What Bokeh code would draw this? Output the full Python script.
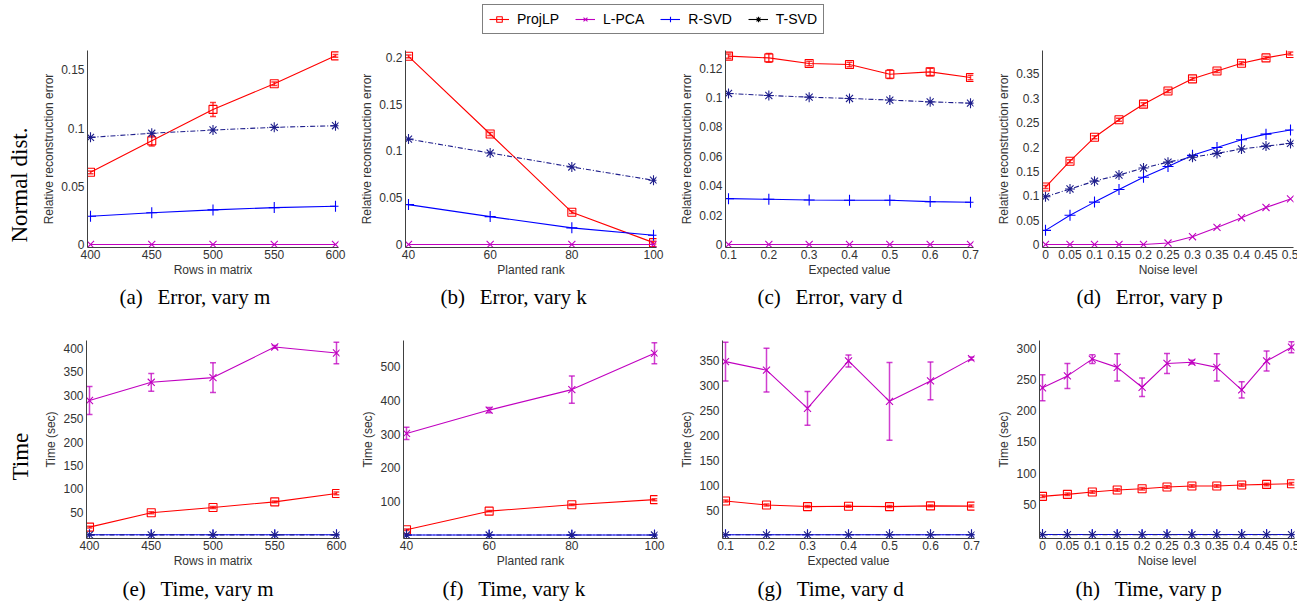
from bokeh.plotting import figure
from bokeh.layouts import column, row
from bokeh.models import (Range1d, FixedTicker, Legend, LegendItem, Title,
                          Whisker, ColumnDataSource, TeeHead)
from bokeh.embed import file_html
from bokeh.resources import INLINE

# ---------------- data ----------------
series_names = ["ProjLP", "L-PCA", "R-SVD", "T-SVD"]

rows_in_matrix = [400, 450, 500, 550, 600]
planted_rank = [40, 60, 80, 100]
expected_value = [0.1, 0.2, 0.3, 0.4, 0.5, 0.6, 0.7]
noise_level = [0, 0.05, 0.1, 0.15, 0.2, 0.25, 0.3, 0.35, 0.4, 0.45, 0.5]

rows_ticklabels = ["400", "450", "500", "550", "600"]
rank_ticklabels = ["40", "60", "80", "100"]
expected_ticklabels = ["0.1", "0.2", "0.3", "0.4", "0.5", "0.6", "0.7"]
noise_ticklabels = ["0", "0.05", "0.1", "0.15", "0.2", "0.25", "0.3", "0.35", "0.4", "0.45", "0.5"]

yt_a = [0, 0.05, 0.1, 0.15]
yl_a = ["0", "0.05", "0.1", "0.15"]
yt_b = [0, 0.05, 0.1, 0.15, 0.2]
yl_b = ["0", "0.05", "0.1", "0.15", "0.2"]
yt_c = [0, 0.02, 0.04, 0.06, 0.08, 0.1, 0.12]
yl_c = ["0", "0.02", "0.04", "0.06", "0.08", "0.1", "0.12"]
yt_d = [0, 0.05, 0.1, 0.15, 0.2, 0.25, 0.3, 0.35]
yl_d = ["0", "0.05", "0.1", "0.15", "0.2", "0.25", "0.3", "0.35"]
yt_e = [50, 100, 150, 200, 250, 300, 350, 400]
yt_f = [100, 200, 300, 400, 500]
yt_g = [50, 100, 150, 200, 250, 300, 350]
yt_h = [50, 100, 150, 200, 250, 300]

# (a) error, vary m
err_m_projlp = [0.062, 0.089, 0.116, 0.138, 0.162]
err_m_projlp_sd = [0.0012, 0.0045, 0.006, 0.0015, 0.0012]
err_m_lpca = [0, 0, 0, 0, 0]
err_m_rsvd = [0.0243, 0.0272, 0.0297, 0.0317, 0.0329]
err_m_tsvd = [0.092, 0.0955, 0.0983, 0.1006, 0.102]

# (b) error, vary k
err_k_projlp = [0.201, 0.118, 0.0345, 0.002]
err_k_projlp_sd = [0.0015, 0.0015, 0.0015, 0.0015]
err_k_lpca = [0, 0, 0, 0]
err_k_rsvd = [0.0426, 0.0298, 0.0178, 0.0099]
err_k_tsvd = [0.1126, 0.0977, 0.0828, 0.0686]

# (c) error, vary d
err_d_projlp = [0.1282, 0.1270, 0.1232, 0.1225, 0.1159, 0.1175, 0.1137]
err_d_projlp_sd = [0.0015, 0.003, 0.0015, 0.0015, 0.003, 0.0025, 0.0015]
err_d_lpca = [0, 0, 0, 0, 0, 0, 0]
err_d_rsvd = [0.0312, 0.0308, 0.0303, 0.0301, 0.0301, 0.0292, 0.0288]
err_d_tsvd = [0.1028, 0.1014, 0.1003, 0.0994, 0.0983, 0.0971, 0.0962]

# (d) error, vary p
err_p_projlp = [0.118, 0.171, 0.220, 0.256, 0.288, 0.315, 0.340, 0.356, 0.372, 0.383, 0.392]
err_p_projlp_sd = [0.003, 0.003, 0.003, 0.003, 0.003, 0.003, 0.003, 0.003, 0.003, 0.003, 0.003]
err_p_lpca = [0, 0, 0, 0, 0, 0.003, 0.016, 0.035, 0.055, 0.076, 0.0935]
err_p_rsvd = [0.029, 0.060, 0.087, 0.113, 0.138, 0.160, 0.183, 0.199, 0.215, 0.2265, 0.235]
err_p_tsvd = [0.098, 0.114, 0.130, 0.1426, 0.157, 0.169, 0.179, 0.187, 0.196, 0.202, 0.2074]

# (e) time, vary m
time_m_projlp = [18, 48.6, 60, 72, 90]
time_m_projlp_sd = [2, 2, 2, 2, 3]
time_m_lpca = [289, 328, 338, 403.6, 390.7]
time_m_lpca_sd = [30, 19, 32, 3, 23]
time_m_rsvd = [1.6, 1.6, 1.6, 1.6, 1.6]
time_m_tsvd = [1.4, 1.4, 1.4, 1.4, 1.4]

# (f) time, vary k
time_k_projlp = [17, 72, 91, 106]
time_k_projlp_sd = [2, 2, 2, 3]
time_k_lpca = [302, 371, 431.6, 539]
time_k_lpca_sd = [18, 8, 40, 31]
time_k_rsvd = [1.6, 1.6, 1.6, 1.6]
time_k_tsvd = [1.4, 1.4, 1.4, 1.4]

# (g) time, vary d
time_d_projlp = [69.3, 61.3, 58, 58.7, 58, 59.4, 59]
time_d_projlp_sd = [2, 2, 2, 2, 2, 2, 2]
time_d_lpca = [348.7, 331.5, 255, 350, 269, 310, 354.7]
time_d_lpca_sd = [39, 44, 34, 12, 78, 38, 3]
time_d_rsvd = [1.6, 1.6, 1.6, 1.6, 1.6, 1.6, 1.6]
time_d_tsvd = [1.4, 1.4, 1.4, 1.4, 1.4, 1.4, 1.4]

# (h) time, vary p
time_p_projlp = [62.8, 66, 69.7, 72.9, 75, 77.7, 79.3, 79.3, 80.9, 82, 83]
time_p_projlp_sd = [2, 2, 2, 2, 2, 2, 2, 2, 2, 2, 2]
time_p_lpca = [237, 256, 283, 269.7, 237.8, 276, 278, 269.7, 233.5, 280, 302]
time_p_lpca_sd = [21, 20, 7, 22, 15, 16, 3, 22, 13, 16, 9]
time_p_rsvd = [1.6, 1.6, 1.6, 1.6, 1.6, 1.6, 1.6, 1.6, 1.6, 1.6, 1.6]
time_p_tsvd = [1.4, 1.4, 1.4, 1.4, 1.4, 1.4, 1.4, 1.4, 1.4, 1.4, 1.4]

# ---------------- style ----------------
SANS = "Liberation Sans"
SERIF = "Liberation Serif"
TXT = "#333333"
AXC = "#404040"
COL = {"ProjLP": "#ff0000", "L-PCA": "#c000c0", "R-SVD": "#0000ff", "T-SVD": "#1e1e8c"}
LEGCOL = {"ProjLP": "#ff0000", "L-PCA": "#c000c0", "R-SVD": "#0000ff", "T-SVD": "#000000"}
MARK = {"ProjLP": "square", "L-PCA": "x", "R-SVD": "cross", "T-SVD": "asterisk"}
MSIZE = {"ProjLP": 8, "L-PCA": 10, "R-SVD": 11, "T-SVD": 10}
DASH = {"ProjLP": "solid", "L-PCA": "solid", "R-SVD": "solid", "T-SVD": "5 2 1 2"}
PAD = 3
GAP = "\u2002\u2009"


def make_panel(xs, series, sds, x_lo, x_hi, inner_w, y_top, inner_h,
               bl, br, bt, bb, xticks, xticklabels, yticks, yticklabels,
               xlabel, ylabel, caption, cap_offset, cap_standoff, spacer,
               rowlabel=None, rl_offset=0, rl_standoff=0):
    sx = (x_hi - x_lo) / inner_w
    sy = y_top / inner_h
    p = figure(frame_width=inner_w + 2 * PAD, frame_height=inner_h + 2 * PAD,
               x_range=Range1d(x_lo - PAD * sx, x_hi + PAD * sx),
               y_range=Range1d(-PAD * sy, y_top + PAD * sy),
               min_border_left=bl, min_border_right=br,
               min_border_top=bt - PAD, min_border_bottom=bb,
               toolbar_location=None, output_backend="svg")
    p.grid.visible = False
    p.outline_line_color = None
    p.background_fill_color = "white"

    for name in series_names:
        ys = series[name]
        p.line(xs, ys, line_color=COL[name], line_width=1.1, line_dash=DASH[name])
        if name in sds:
            sd = sds[name]
            src = ColumnDataSource(dict(x=xs,
                                        lo=[y - s for y, s in zip(ys, sd)],
                                        hi=[y + s for y, s in zip(ys, sd)]))
            w = Whisker(source=src, base="x", lower="lo", upper="hi",
                        line_color=COL[name], line_alpha=0.75, line_width=1.5,
                        upper_head=TeeHead(size=6, line_color=COL[name], line_width=1.5, line_alpha=0.75),
                        lower_head=TeeHead(size=6, line_color=COL[name], line_width=1.5, line_alpha=0.75))
            p.add_layout(w)
        p.scatter(xs, ys, marker=MARK[name], size=MSIZE[name], line_color=COL[name],
                  fill_color=None, line_width=1.1)

    for ax in (p.xaxis[0], p.yaxis[0]):
        ax.major_tick_line_color = None
        ax.minor_tick_line_color = None
        ax.major_tick_out = 0
        ax.major_tick_in = 0
        ax.minor_tick_out = 0
        ax.minor_tick_in = 0
        ax.axis_line_color = AXC
        ax.axis_line_width = 1
        ax.major_label_text_font = SANS
        ax.major_label_text_font_size = "12px"
        ax.major_label_text_color = TXT
        ax.axis_label_text_font = SANS
        ax.axis_label_text_font_size = "12px"
        ax.axis_label_text_font_style = "normal"
        ax.axis_label_text_color = TXT

    p.xaxis.ticker = FixedTicker(ticks=xticks)
    p.xaxis.major_label_overrides = dict(zip(xticks, xticklabels))
    p.xaxis.axis_label = xlabel
    p.xaxis.major_label_standoff = 2
    p.xaxis.axis_label_standoff = 1

    p.yaxis.ticker = FixedTicker(ticks=yticks)
    p.yaxis.major_label_overrides = dict(zip(yticks, yticklabels))
    p.yaxis.axis_label = ylabel
    p.yaxis.major_label_standoff = 3
    p.yaxis.axis_label_standoff = 2

    if spacer is not None:
        p.add_layout(Title(text=" ", text_font_size="1px", standoff=spacer), "below")
    cap = Title(text=caption, align="left", offset=cap_offset, vertical_align="middle",
                standoff=cap_standoff, text_font=SERIF, text_font_size="21px",
                text_font_style="normal", text_color="black")
    p.add_layout(cap, "below")

    if rowlabel is not None:
        p.add_layout(Title(text=rowlabel, align="left", offset=rl_offset, vertical_align="top",
                           standoff=rl_standoff, text_font=SERIF, text_font_size="23px",
                           text_font_style="normal", text_color="black"), "left")
    return p


def ser(a, b, c, d):
    return {"ProjLP": a, "L-PCA": b, "R-SVD": c, "T-SVD": d}


ERR = "Relative reconstruction error"
TIME = "Time (sec)"

pa = make_panel(rows_in_matrix, ser(err_m_projlp, err_m_lpca, err_m_rsvd, err_m_tsvd),
                {"ProjLP": err_m_projlp_sd}, 400, 600, 245, 0.164, 191,
                85, 9, 17, 76, rows_in_matrix, rows_ticklabels, yt_a, yl_a,
                "Rows in matrix", ERR, "(a)" + GAP + "Error, vary m", 32, 8, None,
                "Normal dist.", 5, 12)
pb = make_panel(planted_rank, ser(err_k_projlp, err_k_lpca, err_k_rsvd, err_k_tsvd),
                {"ProjLP": err_k_projlp_sd}, 40, 100, 245, 0.204, 191,
                58, 9, 17, 76, planted_rank, rank_ticklabels, yt_b, yl_b,
                "Planted rank", ERR, "(b)" + GAP + "Error, vary k", 35, 8, None)
pc = make_panel(expected_value, ser(err_d_projlp, err_d_lpca, err_d_rsvd, err_d_tsvd),
                {"ProjLP": err_d_projlp_sd}, 0.1, 0.7, 242, 0.130, 191,
                60, 9, 17, 76, expected_value, expected_ticklabels, yt_c, yl_c,
                "Expected value", ERR, "(c)" + GAP + "Error, vary d", 32, 8, None)
pd_ = make_panel(noise_level, ser(err_p_projlp, err_p_lpca, err_p_rsvd, err_p_tsvd),
                 {"ProjLP": err_p_projlp_sd}, 0, 0.5, 245, 0.392, 191,
                 60, 5, 17, 76, noise_level, noise_ticklabels, yt_d, yl_d,
                 "Noise level", ERR, "(d)" + GAP + "Error, vary p", 34, 8, None)

pe = make_panel(rows_in_matrix, ser(time_m_projlp, time_m_lpca, time_m_rsvd, time_m_tsvd),
                {"ProjLP": time_m_projlp_sd, "L-PCA": time_m_lpca_sd}, 400, 600, 247, 411, 192,
                83, 9, 20, 67, rows_in_matrix, rows_ticklabels, yt_e, [str(v) for v in yt_e],
                "Rows in matrix", TIME, "(e)" + GAP + "Time, vary m", 36, 0, 2,
                "Time", 58, 14)
pf = make_panel(planted_rank, ser(time_k_projlp, time_k_lpca, time_k_rsvd, time_k_tsvd),
                {"ProjLP": time_k_projlp_sd, "L-PCA": time_k_lpca_sd}, 40, 100, 248, 568, 192,
                55, 9, 20, 67, planted_rank, rank_ticklabels, yt_f, [str(v) for v in yt_f],
                "Planted rank", TIME, "(f)" + GAP + "Time, vary k", 39, 0, 2)
pg = make_panel(expected_value, ser(time_d_projlp, time_d_lpca, time_d_rsvd, time_d_tsvd),
                {"ProjLP": time_d_projlp_sd, "L-PCA": time_d_lpca_sd}, 0.1, 0.7, 246, 385, 192,
                56, 9, 20, 67, expected_value, expected_ticklabels, yt_g, [str(v) for v in yt_g],
                "Expected value", TIME, "(g)" + GAP + "Time, vary d", 35, 0, 2)
ph = make_panel(noise_level, ser(time_p_projlp, time_p_lpca, time_p_rsvd, time_p_tsvd),
                {"ProjLP": time_p_projlp_sd, "L-PCA": time_p_lpca_sd}, 0, 0.5, 249, 308, 192,
                56, 5, 20, 67, noise_level, noise_ticklabels, yt_h, [str(v) for v in yt_h],
                "Noise level", TIME, "(h)" + GAP + "Time, vary p", 36, 0, 2)

# legend strip
lf = figure(width=1296, height=36, x_range=Range1d(0, 1), y_range=Range1d(0, 1),
            min_border=0, x_axis_type=None, y_axis_type=None,
            toolbar_location=None, output_backend="svg")
lf.grid.visible = False
lf.outline_line_color = None
items = []
for name in series_names:
    # proxy renderers placed outside the visible range: only their legend glyphs show
    lr = lf.line(x=[5, 6], y=[5, 6], line_color=LEGCOL[name], line_width=1.1)
    sr = lf.scatter(x=[5], y=[5], marker=MARK[name], size=MSIZE[name], line_color=LEGCOL[name],
                    fill_color=None, line_width=1.1)
    items.append(LegendItem(label=name, renderers=[lr, sr]))
leg = Legend(items=items, orientation="horizontal", location=(482, 2),
             border_line_color="black", border_line_width=1, padding=6, spacing=16,
             margin=0, glyph_width=20, glyph_height=14, label_standoff=8,
             label_height=14, label_text_font=SANS, label_text_font_size="14px",
             label_text_color="black", background_fill_alpha=1)
lf.add_layout(leg)

layout = column(lf, row(pa, pb, pc, pd_), row(pe, pf, pg, ph))
open("out.html", "w").write(file_html(layout, INLINE))
